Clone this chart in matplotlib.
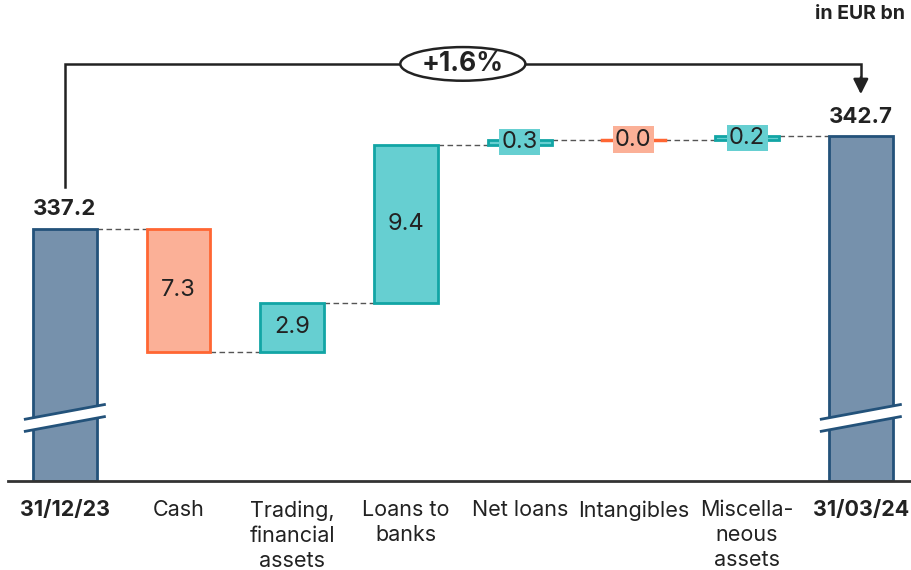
import matplotlib.pyplot as plt
from matplotlib.patches import Ellipse, Polygon
import numpy as np

plt.rcParams['font.family'] = ['Inter', 'DejaVu Sans']

categories = ['31/12/23', 'Cash', 'Trading,\nfinancial\nassets', 'Loans to\nbanks',
              'Net loans', 'Intangibles', 'Miscella-\nneous\nassets', '31/03/24']
start_value = 337.2
end_value = 342.7
changes = [-7.3, 2.9, 9.4, 0.3, 0.0, 0.2]
change_labels = ['7.3', '2.9', '9.4', '0.3', '0.0', '0.2']
change_sign = ['neg', 'pos', 'pos', 'pos', 'neg', 'pos']
growth_label = '+1.6%'
unit_label = 'in EUR bn'

TOTAL_FILL, TOTAL_EDGE = '#7691ac', '#23527a'
POS_FILL, POS_EDGE = '#66cfd1', '#12a5a5'
NEG_FILL, NEG_EDGE = '#fbb097', '#ff6633'
TEXT = '#222222'

fig = plt.figure(figsize=(9.12, 5.7), dpi=100)
ax = fig.add_axes([8 / 912, 89 / 570, 1 - 8 / 912, 481 / 570])
y_bottom, y_top = 322.2, 350.8
ax.set_xlim(-0.5, 7.45)
ax.set_ylim(y_bottom, y_top)
width = 0.56

# totals
for i, v in [(0, start_value), (7, end_value)]:
    ax.bar(i, v - y_bottom, bottom=y_bottom, width=width, color=TOTAL_FILL,
           edgecolor=TOTAL_EDGE, linewidth=2, zorder=2)
    ax.annotate(f'{v:.1f}', (i, v), xytext=(0, 7), textcoords='offset points',
                ha='center', va='bottom', fontsize=16, fontweight='bold', color=TEXT)
    # axis break marks
    yc, dx, dy, gap = 325.95, 0.36, 0.45, 0.36
    band = Polygon([[i - dx, yc - dy - gap], [i + dx, yc + dy - gap],
                    [i + dx, yc + dy + gap], [i - dx, yc - dy + gap]],
                   closed=True, facecolor='white', edgecolor='none', zorder=3)
    ax.add_patch(band)
    for s in (-gap, gap):
        ax.plot([i - dx, i + dx], [yc - dy + s, yc + dy + s], color=TOTAL_EDGE,
                lw=2, zorder=4, solid_capstyle='butt')

# changes
level = start_value
levels = [start_value]
for k, (c, lab, sg) in enumerate(zip(changes, change_labels, change_sign)):
    i = k + 1
    fill, edge = (POS_FILL, POS_EDGE) if sg == 'pos' else (NEG_FILL, NEG_EDGE)
    lo, hi = min(level, level + c), max(level, level + c)
    h = hi - lo
    if h < 0.05:
        ax.plot([i - width / 2, i + width / 2], [lo, lo], color=edge, lw=2.5, zorder=2)
    else:
        ax.bar(i, h, bottom=lo, width=width, color=fill, edgecolor=edge,
               linewidth=2, zorder=2)
    if h > 1:
        ax.text(i, (lo + hi) / 2, lab, ha='center', va='center', fontsize=17,
                color=TEXT, zorder=5)
    else:
        ax.text(i, (lo + hi) / 2, lab, ha='center', va='center', fontsize=17,
                color=TEXT, zorder=5,
                bbox=dict(boxstyle='square,pad=0.1', facecolor=fill, edgecolor='none'))
    level += c
    levels.append(level)

# connectors
for k in range(len(levels)):
    ax.plot([k + width / 2, k + 1 - width / 2], [levels[k], levels[k]],
            color='#555555', lw=1, ls=(0, (4, 2.5)), zorder=1)

# growth bracket
y_br = end_value + 4.3
y_l0 = start_value + 2.5
y_tip = end_value + 2.5
ax.plot([0, 0, 7, 7], [y_l0, y_br, y_br, y_tip + 0.9], color=TEXT, lw=1.8,
        zorder=3, solid_joinstyle='miter')
ax.annotate('', xy=(7, y_tip), xytext=(7, y_tip + 1.0),
            arrowprops=dict(arrowstyle='-|>,head_length=0.9,head_width=0.45',
                            color=TEXT, lw=1.8, shrinkA=0, shrinkB=0))
ax.add_patch(Ellipse((3.5, y_br), 1.1, 2.0, facecolor='white', edgecolor=TEXT,
                     lw=1.8, zorder=4))
ax.text(3.5, y_br, growth_label, ha='center', va='center', fontsize=19,
        fontweight='bold', color=TEXT, zorder=5)

fig.text(0.992, 0.975, unit_label, ha='right', va='center', fontsize=14,
         fontweight='bold', color=TEXT)

# axes styling
for sp in ['top', 'right', 'left']:
    ax.spines[sp].set_visible(False)
ax.spines['bottom'].set_color('#333333')
ax.spines['bottom'].set_linewidth(2)
ax.set_yticks([])
ax.set_xticks(range(len(categories)))
ax.set_xticklabels(categories, fontsize=15.5, color=TEXT, linespacing=1.3, va='top')
ax.tick_params(axis='x', length=0, pad=14)
for t in (ax.get_xticklabels()[0], ax.get_xticklabels()[-1]):
    t.set_fontweight('bold')

fig.savefig('out.png', dpi=100)
